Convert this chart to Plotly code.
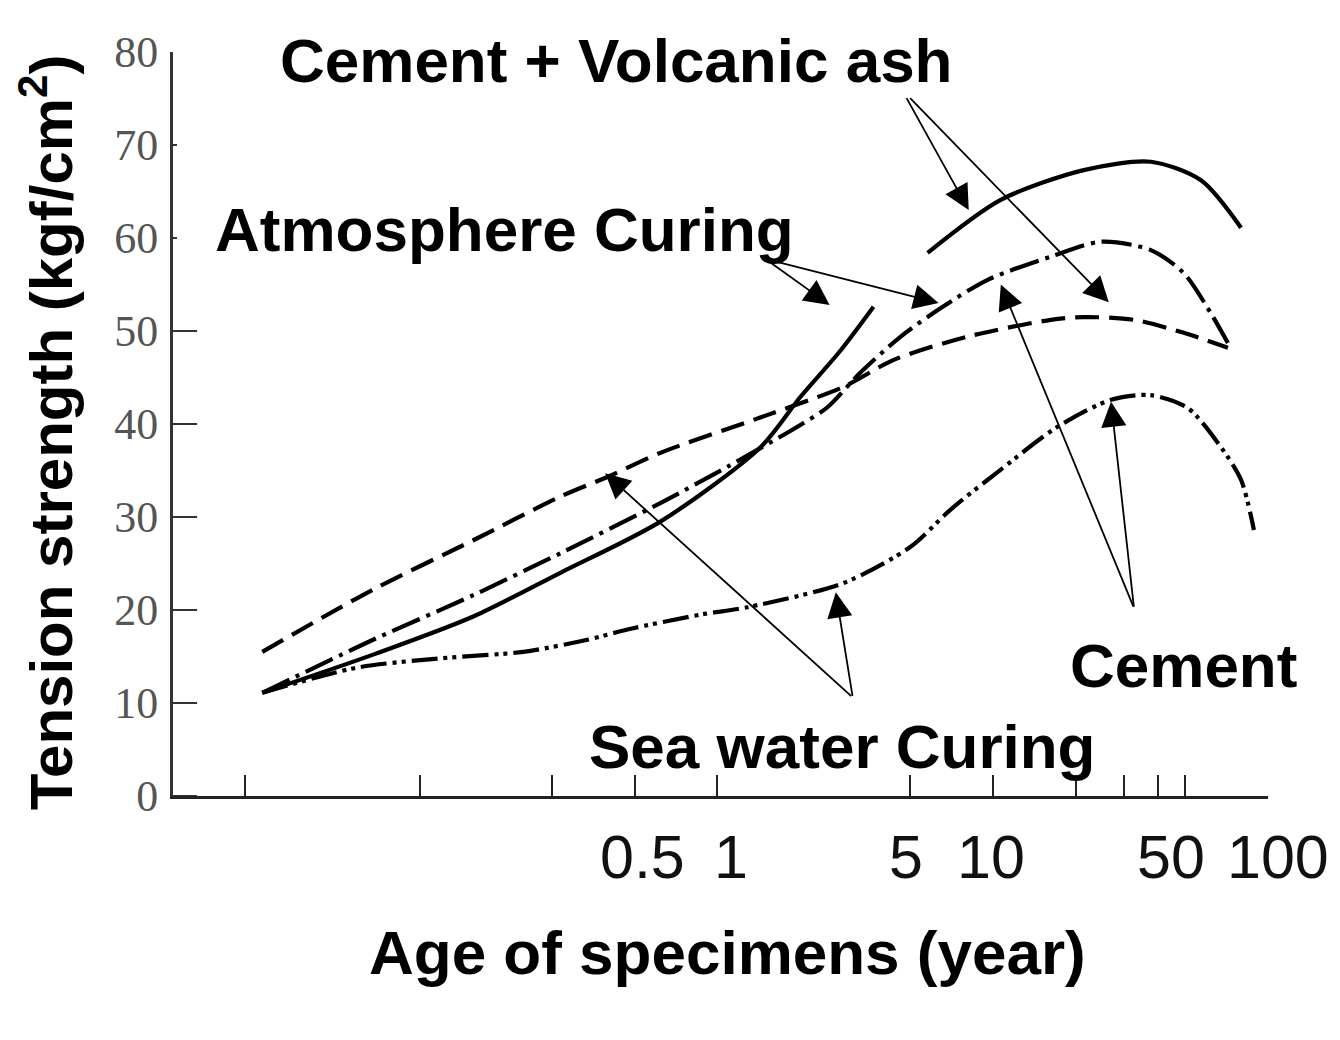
import numpy as np
import plotly.graph_objects as go

# ---------------- data (age in years, tension strength in kgf/cm2) ----------------
# Atmosphere curing, Cement + Volcanic ash (solid; drawn in two pieces)
age_atm_cva = [0.0222, 0.0561, 0.1297, 0.2686, 0.62, 1.434, 2.0, 2.80, 3.69,
               None,
               5.8, 10.69, 21.4, 37.5, 57.1, 79.8]
str_atm_cva = [11.1, 15.2, 19.3, 24.0, 29.5, 37.5, 42.9, 47.9, 52.6,
               None,
               58.4, 64.1, 67.3, 68.2, 66.2, 61.1]

# Atmosphere curing, Cement (dash-dot)
age_atm_c = [0.0222, 0.0561, 0.1297, 0.2686, 0.62, 1.087, 2.0, 2.51, 3.3, 4.63,
             6.5, 9.59, 16.25, 24.7, 37.5, 49.5, 62.0, 71.5]
str_atm_c = [11.1, 16.8, 21.6, 26.1, 31.5, 35.4, 39.9, 41.8, 45.5, 49.4,
             52.5, 55.5, 58.0, 59.6, 58.7, 56.2, 51.9, 48.7]

# Sea water curing, Cement + Volcanic ash (dashed)
age_sea_cva = [0.0222, 0.0561, 0.1297, 0.2686, 0.398, 0.62, 1.43, 2.87, 4.37,
               8.11, 16.25, 21.4, 32.6, 49.5, 71.5]
str_sea_cva = [15.5, 22.2, 27.5, 32.2, 34.3, 36.9, 40.7, 44.0, 46.9,
               49.4, 51.2, 51.5, 51.2, 49.8, 48.2]

# Sea water curing, Cement (dash-dot-dot)
age_sea_c = [0.0222, 0.049, 0.0984, 0.197, 0.337, 0.471, 0.867, 1.285, 2.87, 5.03,
             7.03, 10.7, 17.2, 26.9, 37.5, 51.2, 67.5, 79.8, 88.9]
str_sea_c = [11.1, 13.8, 14.8, 15.5, 16.8, 17.9, 19.5, 20.3, 22.9, 26.8,
             30.8, 35.1, 39.7, 42.6, 43.1, 41.7, 37.5, 34.0, 28.6]

# axis ticks
x_tickvals = [7 / 365, 1 / 12, 0.25, 0.5, 1, 5, 10, 20, 30, 40, 50, 100]
x_label_vals = [0.5, 1, 5, 10, 50, 100]
x_label_text = ["0.5", "1", "5", "10", "50", "100"]
x_label_nudge = [8, 14, -4, -2, -14, 10]   # typeset offset of each label (px)
y_tickvals = [0, 10, 20, 30, 40, 50, 60, 70, 80]
y_long_ticks = [0, 10, 20, 30, 40, 50]

# callout arrows: (label, start age, start strength, tip age, tip strength)
arrow_labels = ["Cement + Volcanic ash", "Cement + Volcanic ash",
                "Atmosphere Curing", "Atmosphere Curing",
                "Cement", "Cement",
                "Sea water Curing", "Sea water Curing"]
arrow_start_age = [4.83, 4.95, 1.52, 1.56, 32.6, 32.6, 3.10, 3.10]
arrow_start_str = [75.2, 75.2, 57.6, 57.6, 20.2, 20.2, 10.6, 10.6]
arrow_tip_age = [8.18, 26.4, 2.555, 6.36, 10.7, 26.9, 0.391, 2.69]
arrow_tip_str = [63.0, 53.1, 52.8, 53.0, 55.0, 42.4, 34.7, 21.9]

# ---------------- figure ----------------
LW = 4.2
fig = go.Figure()
series = [
    (age_atm_cva, str_atm_cva, "solid", "Atmosphere Curing, Cement + Volcanic ash"),
    (age_atm_c, str_atm_c, "30px,7px,4px,7px", "Atmosphere Curing, Cement"),
    (age_sea_cva, str_sea_cva, "24px,10px", "Sea water Curing, Cement + Volcanic ash"),
    (age_sea_c, str_sea_c, "26px,6px,4px,5px,4px,6px", "Sea water Curing, Cement"),
]
for xs, ys, dash, name in series:
    fig.add_trace(go.Scatter(
        x=xs, y=ys, mode="lines", name=name, connectgaps=False,
        line=dict(color="black", width=LW, dash=dash, shape="spline", smoothing=0.8),
        showlegend=False, hoverinfo="skip"))

bold = "Liberation Sans, Arial, Helvetica, sans-serif"
annotations = []
for lab, sa, ss, ta, ts in zip(arrow_labels, arrow_start_age, arrow_start_str,
                               arrow_tip_age, arrow_tip_str):
    annotations.append(dict(
        x=np.log10(ta), y=ts, xref="x", yref="y",
        ax=np.log10(sa), ay=ss, axref="x", ayref="y",
        text="", showarrow=True, arrowhead=2, arrowsize=2.8, arrowwidth=1.8,
        arrowcolor="black", standoff=0, startstandoff=0))

labels = [
    ("<b>Cement + Volcanic ash</b>", 0.4046, 0.989),
    ("<b>Atmosphere Curing</b>", 0.3023, 0.7608),
    ("<b>Sea water Curing</b>", 0.611, 0.0659),
    ("<b>Cement</b>", 0.9228, 0.176),
]
for t, px, py in labels:
    annotations.append(dict(text=t, x=px, y=py, xref="paper", yref="paper",
                            showarrow=False, xanchor="center", yanchor="middle",
                            font=dict(family=bold, size=62, color="black")))

# x tick labels, typeset as in the original figure
for v, t, dx in zip(x_label_vals, x_label_text, x_label_nudge):
    annotations.append(dict(text=t, x=np.log10(v), y=-0.082, xref="x", yref="paper",
                            xshift=dx, showarrow=False, xanchor="center", yanchor="middle",
                            font=dict(family="Liberation Sans, Arial, sans-serif",
                                      size=61, color="#111")))

# axis titles
annotations.append(dict(text="<b>Age of specimens (year)</b>", x=0.5068, y=-0.211,
                        xref="paper", yref="paper", showarrow=False,
                        xanchor="center", yanchor="middle",
                        font=dict(family=bold, size=62, color="black")))
annotations.append(dict(text="<b>Tension strength (kgf/cm<sup>2</sup>)</b>", x=-0.1151, y=0.489,
                        xref="paper", yref="paper", showarrow=False, textangle=-90,
                        xanchor="center", yanchor="middle",
                        font=dict(family=bold, size=60, color="black")))

# long inner tick marks on the y axis (0-50)
shapes = [dict(type="line", xref="paper", yref="y", x0=0, x1=0.022, y0=v, y1=v,
               layer="above", line=dict(color="#333", width=2)) for v in y_long_ticks]

fig.update_layout(
    width=1324, height=1024,
    margin=dict(l=165, r=64, t=44, b=236, autoexpand=False),
    paper_bgcolor="white", plot_bgcolor="white",
    showlegend=False,
    xaxis=dict(type="log", range=[-1.978, 2.0], automargin=False,
               tickmode="array", tickvals=x_tickvals, showticklabels=False,
               ticks="inside", ticklen=21, tickwidth=2, tickcolor="#222",
               showline=True, linewidth=3, linecolor="#222",
               showgrid=False, zeroline=False),
    yaxis=dict(range=[0, 80], automargin=False, tickvals=y_tickvals, ticks="inside",
               ticklen=4, tickwidth=2,
               tickcolor="#333", showline=True, linewidth=3, linecolor="#333",
               showgrid=False, zeroline=False, ticklabelstandoff=3,
               tickfont=dict(family="Liberation Serif, Times New Roman, serif", size=44, color="#555")),
    shapes=shapes,
    annotations=annotations,
)

fig.write_html("out.html")
